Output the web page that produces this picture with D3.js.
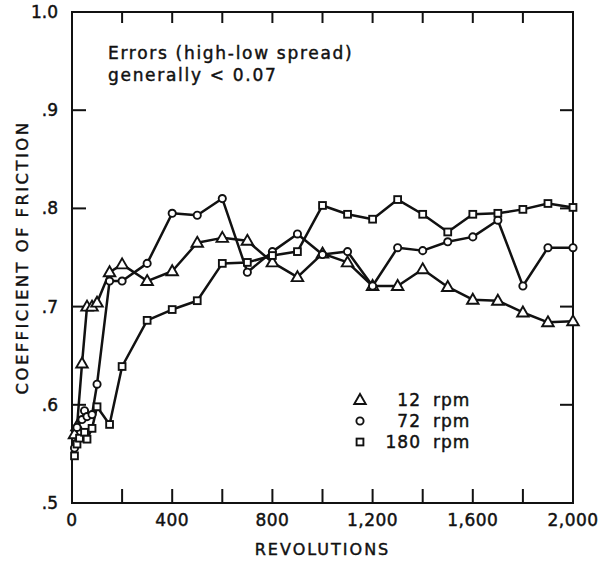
<!DOCTYPE html>
<html>
<head>
<meta charset="utf-8">
<script src="https://cdn.jsdelivr.net/npm/d3@7"></script>
<style>
  html, body { margin: 0; padding: 0; background: #fff; }
  svg { display: block; }
  text { font-family: "DejaVu Sans", "Liberation Sans", sans-serif; fill: #111; stroke: #111; stroke-width: 0.45px; }
</style>
</head>
<body>
<svg id="chart" width="600" height="563"></svg>
<script>
// Revolutions at which each reading was taken, and the friction coefficients
const rev12 = [10, 20, 40, 60, 80, 100, 150, 200, 300, 400, 500, 600, 700, 800, 900, 1000, 1100, 1200, 1300, 1400, 1500, 1600, 1700, 1800, 1900, 2000];
const mu12  = [0.570, 0.578, 0.642, 0.700, 0.700, 0.704, 0.735, 0.743, 0.726, 0.736, 0.765, 0.770, 0.767, 0.745, 0.730, 0.754, 0.745, 0.721, 0.721, 0.738, 0.720, 0.707, 0.706, 0.694, 0.684, 0.685];

const rev72 = [10, 20, 40, 50, 60, 80, 100, 150, 200, 300, 400, 500, 600, 700, 800, 900, 1000, 1100, 1200, 1300, 1400, 1500, 1600, 1700, 1800, 1900, 2000];
const mu72  = [0.556, 0.577, 0.585, 0.594, 0.588, 0.590, 0.621, 0.726, 0.726, 0.744, 0.795, 0.793, 0.810, 0.735, 0.756, 0.774, 0.753, 0.756, 0.721, 0.760, 0.757, 0.766, 0.771, 0.788, 0.721, 0.760, 0.760];

const rev180 = [10, 20, 30, 50, 60, 80, 100, 150, 200, 300, 400, 500, 600, 700, 800, 900, 1000, 1100, 1200, 1300, 1400, 1500, 1600, 1700, 1800, 1900, 2000];
const mu180  = [0.548, 0.560, 0.566, 0.572, 0.565, 0.576, 0.598, 0.580, 0.639, 0.686, 0.697, 0.706, 0.744, 0.745, 0.752, 0.756, 0.803, 0.794, 0.789, 0.809, 0.794, 0.776, 0.794, 0.795, 0.799, 0.805, 0.801];

const xTicks = [0, 200, 400, 600, 800, 1000, 1200, 1400, 1600, 1800, 2000];
const xTickLabels = ["0", "", "400", "", "800", "", "1,200", "", "1,600", "", "2,000"];
const yTicks = [0.5, 0.6, 0.7, 0.8, 0.9, 1.0];
const yTickLabels = [".5", ".6", ".7", ".8", ".9", "1.0"];

const seriesNames = ["12 rpm", "72 rpm", "180 rpm"];
const seriesShapes = ["triangle", "circle", "square"];

const svg = d3.select("#chart");
const x = d3.scaleLinear().domain([0, 2000]).range([72, 573]);
const y = d3.scaleLinear().domain([0.5, 1.0]).range([503, 12]);

// Frame
const frame = svg.append("g").attr("fill", "none").attr("stroke", "#111").attr("stroke-width", 2);
frame.append("rect")
  .attr("x", x(0)).attr("y", y(1.0))
  .attr("width", x(2000) - x(0)).attr("height", y(0.5) - y(1.0));

// Inward ticks on all four sides
const inner = xTicks.slice(1, -1);
frame.selectAll(".tb").data(inner).join("line")
  .attr("x1", d => x(d)).attr("x2", d => x(d))
  .attr("y1", y(0.5)).attr("y2", y(0.5) - 14);
frame.selectAll(".tt").data(inner).join("line")
  .attr("x1", d => x(d)).attr("x2", d => x(d))
  .attr("y1", y(1.0)).attr("y2", y(1.0) + 11);
const innerY = yTicks.slice(1, -1);
frame.selectAll(".tl").data(innerY).join("line")
  .attr("x1", x(0)).attr("x2", x(0) + 14)
  .attr("y1", d => y(d)).attr("y2", d => y(d));
frame.selectAll(".tr").data(innerY).join("line")
  .attr("x1", x(2000)).attr("x2", x(2000) - 13)
  .attr("y1", d => y(d)).attr("y2", d => y(d));

// Tick labels
svg.append("g").selectAll("text").data(xTicks).join("text")
  .attr("x", d => x(d)).attr("y", 526)
  .attr("text-anchor", "middle").attr("font-size", 17).attr("letter-spacing", 0.5)
  .text((d, i) => xTickLabels[i]);
svg.append("g").selectAll("text").data(yTicks).join("text")
  .attr("x", 58).attr("y", d => y(d) + 6)
  .attr("text-anchor", "end").attr("font-size", 17)
  .text((d, i) => yTickLabels[i]);

// Axis titles
svg.append("text").attr("x", x(1000)).attr("y", 555)
  .attr("text-anchor", "middle").attr("font-size", 16).attr("letter-spacing", 2)
  .text("REVOLUTIONS");
svg.append("text")
  .attr("transform", `translate(28,${y(0.75)}) rotate(-90)`)
  .attr("text-anchor", "middle").attr("font-size", 16.5).attr("letter-spacing", 2.4)
  .text("COEFFICIENT OF FRICTION");

// Note
const note = svg.append("g").attr("font-size", 17).attr("letter-spacing", 1.7);
note.append("text").attr("x", 108).attr("y", 59).text("Errors (high-low spread)");
note.append("text").attr("x", 108).attr("y", 81).text("generally < 0.07");

// Marker drawing
function drawMarker(g, shape, cx, cy) {
  const m = g.append("g").attr("fill", "#fff").attr("stroke", "#111").attr("stroke-width", 1.9);
  if (shape === "triangle") {
    const s = 11.5, h = s * Math.sqrt(3) / 2;
    m.append("path").attr("d", `M${cx},${cy - h * 0.6}L${cx + s / 2},${cy + h * 0.4}L${cx - s / 2},${cy + h * 0.4}Z`);
  } else if (shape === "circle") {
    m.append("circle").attr("cx", cx).attr("cy", cy).attr("r", 3.6);
  } else {
    m.append("rect").attr("x", cx - 3.4).attr("y", cy - 3.4).attr("width", 6.8).attr("height", 6.8);
  }
}

const series = [
  { revs: rev12, mus: mu12 },
  { revs: rev72, mus: mu72 },
  { revs: rev180, mus: mu180 }
];

const line = d3.line().x(d => x(d[0])).y(d => y(d[1]));
const lines = svg.append("g");
series.forEach(s => {
  lines.append("path")
    .datum(s.revs.map((r, i) => [r, s.mus[i]]))
    .attr("fill", "none").attr("stroke", "#111").attr("stroke-width", 2.5)
    .attr("stroke-linejoin", "round")
    .attr("d", line);
});
const marks = svg.append("g");
series.forEach((s, k) => {
  s.revs.forEach((r, i) => drawMarker(marks, seriesShapes[k], x(r), y(s.mus[i])));
});

// Legend
const legend = svg.append("g").attr("font-size", 17).attr("letter-spacing", 1);
seriesNames.forEach((name, k) => {
  const ly = 400 + k * 21;
  drawMarker(legend, seriesShapes[k], 360, ly);
  const [num, unit] = name.split(" ");
  legend.append("text").attr("x", 421).attr("y", ly + 6).attr("text-anchor", "end").text(num);
  legend.append("text").attr("x", 433).attr("y", ly + 6).text(unit);
});
</script>
</body>
</html>
